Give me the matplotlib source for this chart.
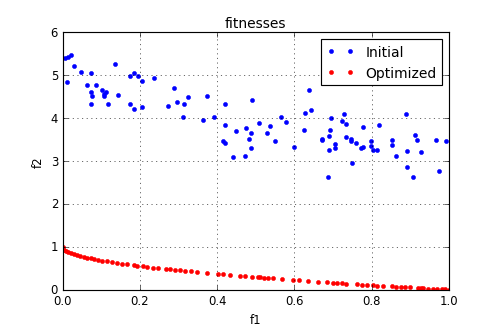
import matplotlib
matplotlib.use("Agg")
import matplotlib.pyplot as plt

plt.style.use("classic")
plt.rcParams["font.size"] = 10
plt.rcParams["legend.fontsize"] = 12

initial_f1 = [0.006, 0.014, 0.021, 0.028, 0.047, 0.072, 0.012, 0.135, 0.064, 0.085,
              0.072, 0.076, 0.101, 0.111, 0.106, 0.108, 0.072, 0.116, 0.142, 0.173,
              0.185, 0.195, 0.206, 0.236, 0.175, 0.184, 0.204,
              0.288, 0.273, 0.295, 0.314, 0.325, 0.373, 0.312, 0.362, 0.392, 0.420,
              0.490, 0.421, 0.448, 0.475, 0.487, 0.508, 0.481, 0.416, 0.420, 0.488,
              0.440, 0.472,
              0.638, 0.628, 0.643, 0.537, 0.564, 0.577, 0.530, 0.550, 0.624, 0.598,
              0.695, 0.729, 0.723, 0.733, 0.693, 0.690, 0.670, 0.672, 0.734, 0.747,
              0.746, 0.759, 0.705, 0.706, 0.690, 0.749, 0.687,
              0.889, 0.777, 0.820, 0.799, 0.798, 0.803, 0.814, 0.772, 0.778, 0.853,
              0.852, 0.862, 0.911, 0.918, 0.892, 0.927, 0.966, 0.992, 0.890, 0.908,
              0.974]
initial_f2 = [5.39, 5.42, 5.48, 5.22, 5.08, 5.05, 4.83, 5.27, 4.78, 4.78,
              4.60, 4.52, 4.66, 4.60, 4.56, 4.52, 4.34, 4.34, 4.55, 4.98,
              5.04, 4.99, 4.87, 4.93, 4.32, 4.21, 4.25,
              4.71, 4.28, 4.38, 4.32, 4.49, 4.51, 4.03, 3.95, 4.03, 4.33,
              4.42, 3.84, 3.69, 3.76, 3.65, 3.88, 3.52, 3.47, 3.41, 3.30,
              3.09, 3.12,
              4.65, 4.11, 4.19, 3.82, 4.03, 3.90, 3.65, 3.47, 3.73, 3.32,
              4.00, 4.10, 3.93, 3.87, 3.72, 3.59, 3.51, 3.49, 3.57, 3.51,
              3.46, 3.43, 3.40, 3.30, 3.26, 2.95, 2.62,
              4.10, 3.79, 3.84, 3.47, 3.36, 3.26, 3.26, 3.31, 3.33, 3.48,
              3.37, 3.11, 3.61, 3.50, 3.23, 3.22, 3.50, 3.47, 2.87, 2.63,
              2.77]

optimized_f1 = [0.000, 0.004, 0.009, 0.015, 0.022, 0.029, 0.037, 0.045, 0.054, 0.063,
                0.072, 0.082, 0.092, 0.103, 0.115, 0.128, 0.140, 0.153, 0.166, 0.185,
                0.193, 0.207, 0.219, 0.233, 0.246, 0.267, 0.278, 0.291, 0.304, 0.317,
                0.331, 0.347, 0.373, 0.403, 0.416, 0.433, 0.459, 0.472, 0.489, 0.506,
                0.511, 0.521, 0.532, 0.544, 0.567, 0.597, 0.612, 0.636, 0.662, 0.685,
                0.700, 0.711, 0.722, 0.733, 0.761, 0.774, 0.787, 0.802, 0.814, 0.830,
                0.852, 0.863, 0.875, 0.886, 0.899, 0.921, 0.927, 0.933, 0.946, 0.958,
                0.968, 0.981, 0.990, 1.000]
optimized_f2 = [1.000, 0.937, 0.905, 0.878, 0.852, 0.830, 0.808, 0.788, 0.768, 0.749,
                0.732, 0.714, 0.697, 0.679, 0.661, 0.642, 0.626, 0.609, 0.593, 0.570,
                0.561, 0.545, 0.532, 0.517, 0.504, 0.483, 0.473, 0.461, 0.449, 0.437,
                0.425, 0.411, 0.389, 0.365, 0.355, 0.342, 0.322, 0.313, 0.301, 0.289,
                0.285, 0.278, 0.271, 0.262, 0.247, 0.227, 0.218, 0.203, 0.186, 0.172,
                0.163, 0.157, 0.150, 0.144, 0.128, 0.120, 0.113, 0.104, 0.098, 0.089,
                0.077, 0.071, 0.065, 0.059, 0.052, 0.040, 0.037, 0.034, 0.027, 0.021,
                0.016, 0.010, 0.005, 0.000]

fig = plt.figure(figsize=(6, 3.996), dpi=83.333, facecolor="white")
ax = fig.add_axes([0.1254, 0.127, 0.7726, 0.773])
ax.plot(initial_f1, initial_f2, "b.", markersize=7, label="Initial")
ax.plot(optimized_f1, optimized_f2, "r.", markersize=7, label="Optimized")
ax.set_xlim(0, 1)
ax.set_ylim(0, 6)
ax.set_xlabel("f1")
ax.set_ylabel("f2")
ax.set_title("fitnesses")
ax.grid(True)
ax.legend(loc="upper right")
fig.savefig("out.png", dpi=83.333, facecolor="white")
